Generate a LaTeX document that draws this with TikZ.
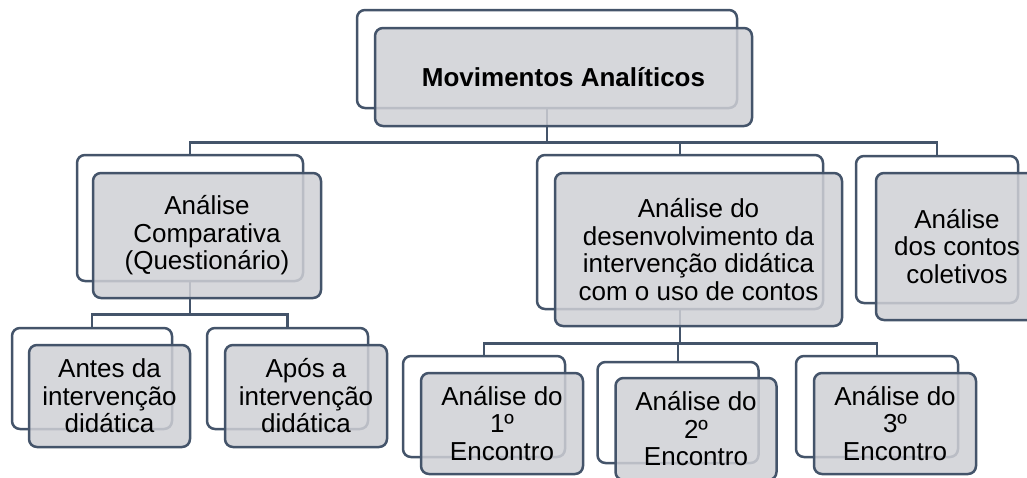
\documentclass[tikz,border=0pt]{standalone}
\usepackage{fontspec}
\setmainfont{Liberation Sans}
\usepackage{xcolor}
\definecolor{slate}{HTML}{44546A}
\definecolor{boxgray}{HTML}{CFD0D5}
\tikzset{backframe/.style={draw=slate,fill=white,line width=2.5pt,rounded corners=8pt,inner sep=0pt}, frontbox/.style={draw=slate,fill=boxgray,fill opacity=.85,text opacity=1,line width=2.5pt,rounded corners=8pt,inner sep=0pt,align=center,font=\fontsize{26}{27.5}\selectfont}, link/.style={draw=slate,line width=2.5pt}}

\begin{document}
\begin{tikzpicture}[x=1pt,y=-1pt]
\useasboundingbox (0,0) rectangle (1027,477);
\clip (0,0) rectangle (1027,477);
% back frames
\node[backframe,minimum width=380pt,minimum height=98pt] (topb) at (547,59) {};
\node[backframe,minimum width=226pt,minimum height=126pt] (compb) at (190,218) {};
\node[backframe,minimum width=286pt,minimum height=154pt] (desb) at (680,232) {};
\node[backframe,minimum width=162pt,minimum height=147pt] (colb) at (937,229.5) {};
\node[backframe,minimum width=160pt,minimum height=101pt] (antesb) at (92,378.5) {};
\node[backframe,minimum width=161pt,minimum height=101pt] (aposb) at (287.5,378.5) {};
\node[backframe,minimum width=162pt,minimum height=101pt] (enc1b) at (484,406.5) {};
\node[backframe,minimum width=161pt,minimum height=101pt] (enc2b) at (678,412.5) {};
\node[backframe,minimum width=162pt,minimum height=101pt] (enc3b) at (877,406.5) {};
% connectors
\draw[link] (topb.south) -- ++(0,33) -| (compb.north);
\draw[link] (topb.south) -- ++(0,33) -| (desb.north);
\draw[link] (topb.south) -- ++(0,33) -| (colb.north);
\draw[link] (compb.south) -- ++(0,32) -| (antesb.north);
\draw[link] (compb.south) -- ++(0,32) -| (aposb.north);
\draw[link] (desb.south) -- ++(0,33) -| (enc1b.north);
\draw[link] (desb.south) -- ++(0,33) -| (enc2b.north);
\draw[link] (desb.south) -- ++(0,33) -| (enc3b.north);
% front boxes
\node[frontbox,minimum width=377pt,minimum height=98pt] (top) at (563.5,77) {\bfseries Movimentos Analíticos};
\node[frontbox,minimum width=228pt,minimum height=125pt] (comp) at (207,235.5) {Análise\\Comparativa\\(Questionário)};
\node[frontbox,minimum width=287pt,minimum height=153pt] (des) at (698.5,249.5) {Análise do\\desenvolvimento da\\intervenção didática\\com o uso de contos};
\node[frontbox,minimum width=162pt,minimum height=147pt] (col) at (957,246.5) {Análise\\dos contos\\coletivos};
\node[frontbox,minimum width=161pt,minimum height=102pt] (antes) at (109.5,396) {Antes da\\intervenção\\didática};
\node[frontbox,minimum width=162pt,minimum height=102pt] (apos) at (306,396) {Após a\\intervenção\\didática};
\node[frontbox,minimum width=162pt,minimum height=101pt] (enc1) at (502,423.5) {Análise do\\1º\\Encontro};
\node[frontbox,minimum width=161pt,minimum height=102pt] (enc2) at (696,429) {Análise do\\2º\\Encontro};
\node[frontbox,minimum width=162pt,minimum height=101pt] (enc3) at (895,423.5) {Análise do\\3º\\Encontro};
\end{tikzpicture}
\end{document}
